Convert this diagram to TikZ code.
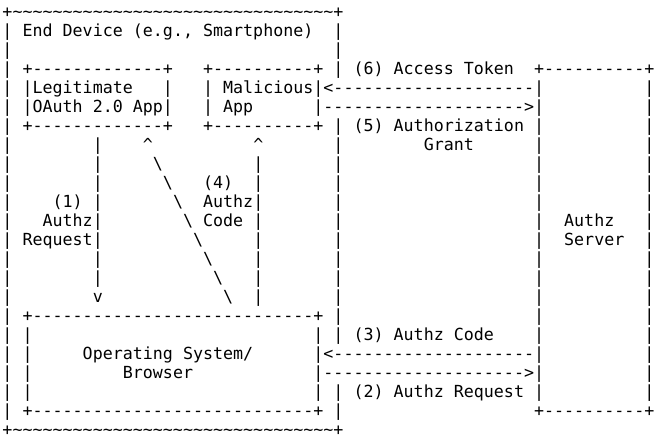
\documentclass[tikz,border=0pt]{standalone}
\usepackage{fontspec}
\setmonofont{DejaVu Sans Mono}
\usepackage{tikz}

\newcommand\artdash[1]{\foreach\i in {1,...,#1}{-}}
\newcommand\arttilde[1]{\foreach\i in {1,...,#1}{\textasciitilde}}

\begin{document}
\begin{tikzpicture}
      [ x=10.03pt, y=-19pt
      , art/.style={anchor=base west, inner sep=0pt, black,
          font=\ttfamily\fontsize{16.66pt}{19pt}\selectfont\frenchspacing}
      ]
    \useasboundingbox (-2.3pt,17.5pt) rectangle (660.7pt,-422.5pt);

    \node[art] (devtop) at (0,0) {+\arttilde{32}+};
    \node[art] (devname) at (2,1) {End Device (e.g., Smartphone)};
    \node[art] (devbot) at (0,22) {+\arttilde{32}+};
    \foreach \r in {1,...,21} \node[art] (devl\r) at (0,\r) {|};
    \foreach \r in {1,2,3,6,7,8,9,10,11,12,13,14,15,16,17,20,21}
      \node[art] (devr\r) at (33,\r) {|};

    \node[art] (legtop) at (2,3) {+\artdash{13}+};
    \node[art] (legname) at (3,4) {Legitimate};
    \node[art] (legname2) at (3,5) {OAuth 2.0 App};
    \node[art] (legbot) at (2,6) {+\artdash{13}+};

    \node[art] (maltop) at (20,3) {+\artdash{10}+};
    \node[art] (malname) at (22,4) {Malicious};
    \node[art] (malname2) at (22,5) {App};
    \node[art] (malbot) at (20,6) {+\artdash{10}+};

    \foreach \r in {4,5} {
      \node[art] (legl\r) at (2,\r) {|};
      \node[art] (legr\r) at (16,\r) {|};
      \node[art] (mall\r) at (20,\r) {|};
      \node[art] (malr\r) at (31,\r) {|};
    }

    \node[art] (srvtop) at (53,3) {+\artdash{10}+};
    \node[art] (srvbot) at (53,21) {+\artdash{10}+};
    \foreach \r in {4,...,20} {
      \node[art] (srvl\r) at (53,\r) {|};
      \node[art] (srvr\r) at (64,\r) {|};
    }
    \node[art] (srvname) at (56,11) {Authz};
    \node[art] (srvname2) at (56,12) {Server};

    \node[art] (ostop) at (2,16) {+\artdash{28}+};
    \node[art] (osbot) at (2,21) {+\artdash{28}+};
    \foreach \r in {17,...,20} {
      \node[art] (osl\r) at (2,\r) {|};
      \node[art] (osr\r) at (31,\r) {|};
    }
    \node[art] (osname) at (8,18) {Operating System/};
    \node[art] (osname2) at (12,19) {Browser};

    \foreach \r in {7,...,14} \node[art] (reqline\r) at (9,\r) {|};
    \node[art] (reqtip) at (9,15) {v};
    \node[art] (reqlbl) at (5,10) {(1)};
    \node[art] (reqlbl2) at (4,11) {Authz};
    \node[art] (reqlbl3) at (2,12) {Request};

    \node[art] (codetip) at (25,7) {\textasciicircum};
    \foreach \r in {8,...,15} \node[art] (codeline\r) at (25,\r) {|};
    \node[art] (codelbl) at (20,9) {(4)};
    \node[art] (codelbl2) at (20,10) {Authz};
    \node[art] (codelbl3) at (20,11) {Code};

    \node[art] (redirtip) at (14,7) {\textasciicircum};
    \foreach \k in {0,...,7}
      \node[art] (redir\k) at ({15+\k},{8+\k}) {\textbackslash};

    \node[art] (tokarrow) at (32,4) {<\artdash{20}};
    \node[art] (grantarrow) at (32,5) {\artdash{20}>};
    \node[art] (authcodearrow) at (32,18) {<\artdash{20}};
    \node[art] (authreqarrow) at (32,19) {\artdash{20}>};

    \node[art] (toklbl) at (35,3) {(6) Access Token};
    \node[art] (grantlbl) at (35,6) {(5) Authorization};
    \node[art] (grantlbl2) at (42,7) {Grant};
    \node[art] (authcodelbl) at (35,17) {(3) Authz Code};
    \node[art] (authreqlbl) at (35,20) {(2) Authz Request};
\end{tikzpicture}
\end{document}
